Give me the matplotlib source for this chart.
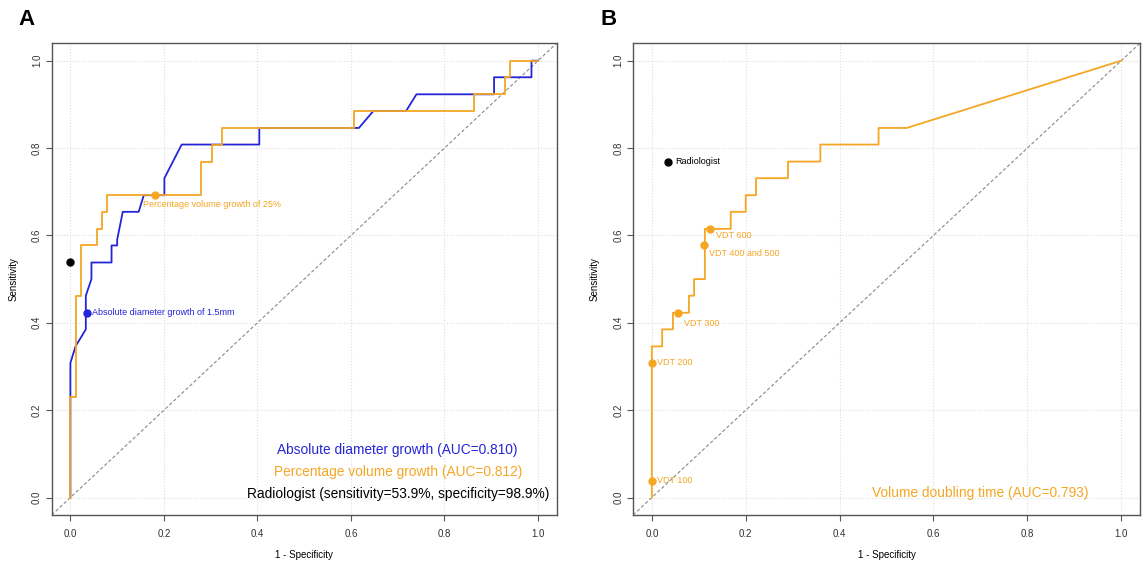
import matplotlib
matplotlib.use("Agg")
import matplotlib.pyplot as plt

plt.rcParams['font.family'] = ['Liberation Sans', 'DejaVu Sans']

BLUE = '#2525d8'
ORANGE = '#f5a623'

# panel A: ROC curves (1 - specificity, sensitivity)
diam_fpr = [0, 0, 0.011, 0.033, 0.033, 0.045, 0.045, 0.088, 0.088, 0.1, 0.1, 0.112, 0.146, 0.157,
            0.201, 0.201, 0.238, 0.404, 0.404, 0.617, 0.648, 0.718, 0.74, 0.906, 0.906, 0.986, 0.986, 1]
diam_tpr = [0, 0.308, 0.346, 0.385, 0.462, 0.5, 0.538, 0.538, 0.577, 0.577, 0.59, 0.654, 0.654, 0.692,
            0.692, 0.731, 0.808, 0.808, 0.846, 0.846, 0.885, 0.885, 0.923, 0.923, 0.962, 0.962, 1, 1]

vol_fpr = [0, 0, 0.011, 0.011, 0.022, 0.022, 0.056, 0.056, 0.067, 0.067, 0.079, 0.079, 0.28, 0.28,
           0.303, 0.303, 0.324, 0.324, 0.606, 0.606, 0.863, 0.863, 0.93, 0.93, 0.94, 0.94, 1]
vol_tpr = [0, 0.231, 0.231, 0.462, 0.462, 0.577, 0.577, 0.615, 0.615, 0.654, 0.654, 0.692, 0.692, 0.769,
           0.769, 0.808, 0.808, 0.846, 0.846, 0.885, 0.885, 0.923, 0.923, 0.962, 0.962, 1, 1]

diam_cut = (0.035, 0.423)
vol_cut = (0.18, 0.692)
radiologist_a = (0, 0.539)

legend_a = ["Absolute diameter growth (AUC=0.810)",
            "Percentage volume growth (AUC=0.812)",
            "Radiologist (sensitivity=53.9%, specificity=98.9%)"]

# panel B: volume doubling time
vdt_fpr = [0, 0, 0.022, 0.022, 0.045, 0.045, 0.079, 0.079, 0.09, 0.09, 0.113, 0.113, 0.168, 0.168,
           0.2, 0.2, 0.222, 0.222, 0.29, 0.29, 0.359, 0.359, 0.483, 0.483, 0.543, 1]
vdt_tpr = [0, 0.346, 0.346, 0.385, 0.385, 0.423, 0.423, 0.462, 0.462, 0.5, 0.5, 0.615, 0.615, 0.654,
           0.654, 0.692, 0.692, 0.731, 0.731, 0.769, 0.769, 0.808, 0.808, 0.846, 0.846, 1]

vdt_labels = ["VDT 100", "VDT 200", "VDT 300", "VDT 400 and 500", "VDT 600"]
vdt_x = [0, 0, 0.056, 0.111, 0.124]
vdt_y = [0.038, 0.308, 0.423, 0.577, 0.615]
vdt_offsets = [(4, 0), (4, 0), (4, -8), (4, -6), (4, -5)]
radiologist_b = (0.035, 0.769)

ticks = [0, 0.2, 0.4, 0.6, 0.8, 1.0]


def setup(ax):
    ax.set_xlim(-0.04, 1.04)
    ax.set_ylim(-0.04, 1.04)
    ax.set_xticks(ticks)
    ax.set_yticks(ticks)
    ax.set_xticklabels(["%.1f" % t for t in ticks])
    ax.set_yticklabels(["%.1f" % t for t in ticks], rotation=90, va='center')
    ax.tick_params(labelsize=7, length=4, color='#555555', labelcolor='#333333')
    ax.tick_params(axis='x', pad=6)
    ax.tick_params(axis='y', pad=3)
    ax.grid(True, color='#dddddd', linestyle=':', linewidth=0.8)
    for s in ax.spines.values():
        s.set_color('#555555')
        s.set_linewidth(1)
    ax.plot([-0.04, 1.04], [-0.04, 1.04], color='#888888', linestyle='--', linewidth=0.8, dashes=(3, 2))
    ax.set_xlabel("1 - Specificity", fontsize=7, labelpad=8)
    ax.set_ylabel("Sensitivity", fontsize=7, labelpad=10)


fig = plt.figure(figsize=(11.46, 5.61), dpi=100)
axA = fig.add_axes([0.0451, 0.082, 0.4407, 0.841])
axB = fig.add_axes([0.5524, 0.082, 0.4424, 0.841])

setup(axA)
axA.plot(diam_fpr, diam_tpr, color=BLUE, linewidth=1.3)
axA.plot(vol_fpr, vol_tpr, color=ORANGE, linewidth=1.3)
axA.plot(*diam_cut, 'o', color=BLUE, markersize=5)
axA.plot(*vol_cut, 'o', color=ORANGE, markersize=5)
axA.plot(*radiologist_a, 'o', color='black', markersize=5)
axA.annotate("Absolute diameter growth of 1.5mm", diam_cut, xytext=(4, 0), textcoords='offset points',
             fontsize=6.5, color=BLUE, va='center', ha='left')
axA.annotate("Percentage volume growth of 25%", vol_cut, xytext=(-8, -7), textcoords='offset points',
             fontsize=6.5, color=ORANGE, va='center', ha='left')
for txt, col, yy in zip(legend_a, [BLUE, ORANGE, 'black'], [0.108, 0.058, 0.009]):
    axA.text(0.70, yy, txt, color=col, fontsize=9.9, ha='center', va='center')

setup(axB)
axB.plot(vdt_fpr, vdt_tpr, color=ORANGE, linewidth=1.3)
axB.plot(vdt_x, vdt_y, 'o', color=ORANGE, markersize=5)
for txt, x, y, off in zip(vdt_labels, vdt_x, vdt_y, vdt_offsets):
    axB.annotate(txt, (x, y), xytext=off, textcoords='offset points',
                 fontsize=6.5, color=ORANGE, va='center', ha='left')
axB.plot(*radiologist_b, 'o', color='black', markersize=5)
axB.annotate("Radiologist", radiologist_b, xytext=(5, 0), textcoords='offset points',
             fontsize=6.5, color='black', va='center', ha='left')
axB.text(0.70, 0.01, "Volume doubling time (AUC=0.793)", color=ORANGE, fontsize=9.9,
         ha='center', va='center')

fig.text(0.016, 0.965, "A", fontsize=16, fontweight='bold', va='center')
fig.text(0.524, 0.965, "B", fontsize=16, fontweight='bold', va='center')

fig.savefig("out.png", dpi=100)
